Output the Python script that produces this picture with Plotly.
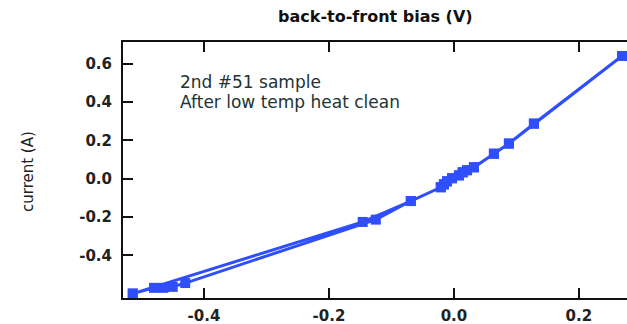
import plotly.graph_objects as go

# Sweep data (bias V, current A), in measurement order
bias_V = [-0.514, -0.480, -0.465, -0.450, -0.430, -0.125, -0.069,
          -0.021, -0.016, -0.011, -0.003, 0.008, 0.014, 0.021, 0.032,
          0.064, 0.088, 0.128, 0.269,
          0.128, 0.088, 0.064, 0.032, 0.021, 0.014, 0.008, -0.003,
          -0.011, -0.016, -0.021, -0.069, -0.146, -0.514]
current_A = [-0.600, -0.570, -0.570, -0.565, -0.545, -0.214, -0.117,
             -0.045, -0.030, -0.014, 0.002, 0.017, 0.033, 0.044, 0.059,
             0.130, 0.183, 0.287, 0.640,
             0.287, 0.183, 0.130, 0.059, 0.044, 0.033, 0.017, 0.002,
             -0.014, -0.030, -0.045, -0.117, -0.226, -0.600]

x_tickvals = [-0.4, -0.2, 0.0, 0.2]
x_ticktext = ["-0.4", "-0.2", "0.0", "0.2"]
y_tickvals = [-0.4, -0.2, 0.0, 0.2, 0.4, 0.6]
y_ticktext = ["-0.4", "-0.2", "0.0", "0.2", "0.4", "0.6"]

title_text = "back-to-front bias (V)"
ylabel_text = "current (A)"
note_lines = ["2nd #51 sample", "After low temp heat clean"]

blue = "#2f4fff"
axis_color = "#111111"
tick_font = dict(family="DejaVu Sans", size=15, color="#222222", weight="bold")

fig = go.Figure()
fig.add_trace(go.Scatter(
    x=bias_V, y=current_A, mode="lines+markers",
    line=dict(color=blue, width=3),
    marker=dict(symbol="square", size=10, color=blue),
    showlegend=False,
))

fig.update_layout(
    width=627, height=324,
    margin=dict(l=123, r=0, t=42, b=26),
    paper_bgcolor="white", plot_bgcolor="white",
    xaxis=dict(
        range=[-0.5296, 0.277], showgrid=False, zeroline=False,
        showline=True, linecolor=axis_color, linewidth=2, mirror="ticks",
        ticks="inside", ticklen=10, tickwidth=2, tickcolor=axis_color,
        tickvals=x_tickvals, ticktext=x_ticktext, tickfont=tick_font,
        ticklabelstandoff=3,
    ),
    yaxis=dict(
        range=[-0.623, 0.713], showgrid=False, zeroline=False,
        showline=True, linecolor=axis_color, linewidth=2,
        ticks="inside", ticklen=10, tickwidth=2, tickcolor=axis_color,
        tickvals=y_tickvals, ticktext=y_ticktext, tickfont=tick_font,
        ticklabelstandoff=6,
    ),
    annotations=[
        dict(text=title_text, xref="paper", yref="paper", x=0.5, y=1.0977,
             xanchor="center", yanchor="middle", showarrow=False,
             font=dict(family="DejaVu Sans", size=16, color="#111111", weight="bold")),
        dict(text=ylabel_text, xref="paper", yref="paper", x=-0.1885, y=0.496,
             xanchor="center", yanchor="middle", textangle=-90, showarrow=False,
             font=dict(family="DejaVu Sans", size=15, color="#222222")),
        dict(text=note_lines[0], xref="x", yref="y", x=-0.4416, y=0.502,
             xanchor="left", yanchor="middle", showarrow=False,
             font=dict(family="DejaVu Sans", size=17, color="#223333")),
        dict(text=note_lines[1], xref="x", yref="y", x=-0.4416, y=0.398,
             xanchor="left", yanchor="middle", showarrow=False,
             font=dict(family="DejaVu Sans", size=17, color="#223333")),
    ],
)

fig.write_html("out.html")
